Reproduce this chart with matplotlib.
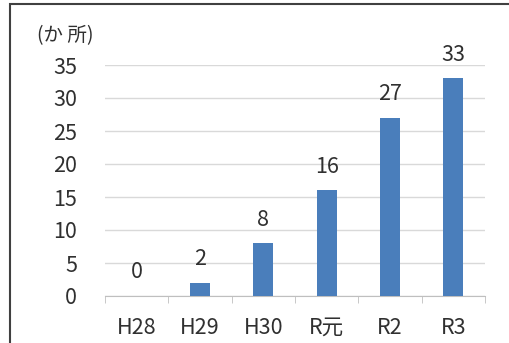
import matplotlib

matplotlib.use("Agg")
import matplotlib.pyplot as plt
from matplotlib.patches import Rectangle

plt.rcParams["font.family"] = ["Noto Sans CJK JP", "DejaVu Sans"]

categories = ["H28", "H29", "H30", "R元", "R2", "R3"]
counts = [0, 2, 8, 16, 27, 33]
yticks = [0, 5, 10, 15, 20, 25, 30, 35]

W, H = 509, 343
FS = 15.5
TXT = "#303030"
fig = plt.figure(figsize=(W / 100, H / 100), dpi=100)
ax = fig.add_axes([105 / W, 47 / H, 380 / W, 231 / H])

x = list(range(len(categories)))
ax.bar(x, counts, width=0.32, color="#4a7ebb", zorder=3)
for xi, v in zip(x, counts):
    ax.annotate(str(v), (xi, v), xytext=(0, 9), textcoords="offset points",
                ha="center", va="bottom", fontsize=FS, color=TXT)

ax.set_xlim(-0.5, len(categories) - 0.5)
ax.set_ylim(0, 35)
ax.set_yticks(yticks)
ax.set_yticklabels([str(t) for t in yticks], fontsize=FS, color=TXT)
ax.set_xticks(x)
ax.set_xticklabels(categories, fontsize=FS, color=TXT)
ax.tick_params(axis="y", length=0, pad=20)
ax.tick_params(axis="x", length=0, pad=15)
# category-boundary tick marks like Excel
ax.set_xticks([i - 0.5 for i in range(len(categories) + 1)], minor=True)
ax.tick_params(axis="x", which="minor", length=5, color="#bfbfbf", direction="out")
ax.grid(axis="y", color="#d9d9d9", lw=1, zorder=0)
for s in ["top", "right", "left"]:
    ax.spines[s].set_visible(False)
ax.spines["bottom"].set_color("#bfbfbf")

fig.text(65 / W, 1 - 36 / H, "(か 所)", ha="center", va="center",
         fontsize=14, color=TXT)

# outer frame (cropped on right and bottom)
fig.patches.append(Rectangle((10 / W, -0.1), 1.2, 1 - 4 / H + 0.1,
                             transform=fig.transFigure, fill=False,
                             ec="#404040", lw=1.5))

fig.savefig("out.png", dpi=100)
